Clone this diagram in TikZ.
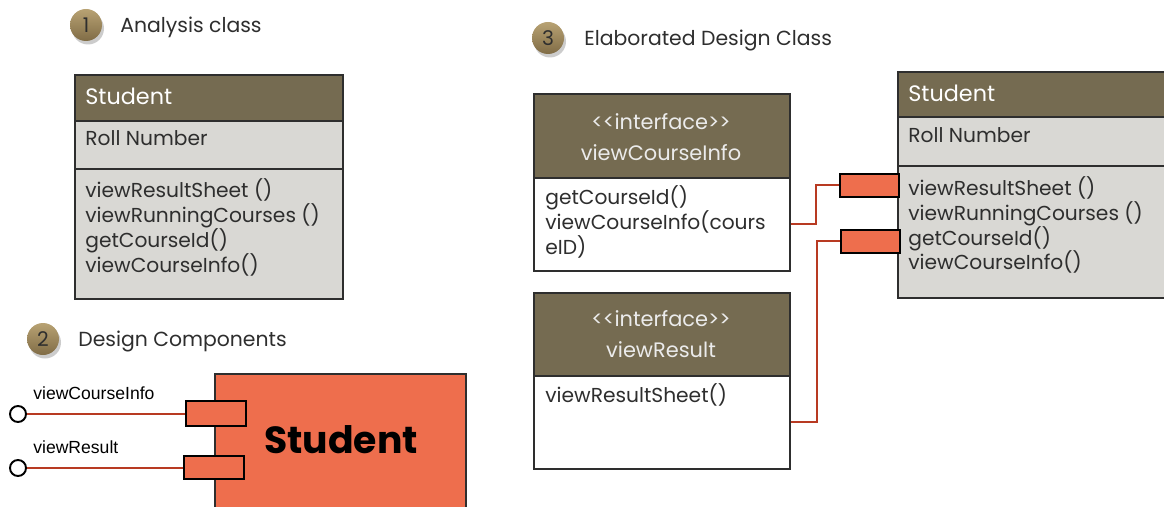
\documentclass[tikz,border=0pt]{standalone}
\usepackage{fontspec}
\setmainfont{Poppins}
\newfontfamily\arialfont{Liberation Sans}
\usetikzlibrary{shadows}
\definecolor{headc}{HTML}{756B51}
\definecolor{greyc}{HTML}{D9D8D4}
\definecolor{compc}{HTML}{EE6E4D}
\definecolor{wirec}{HTML}{B83A22}
\definecolor{inkc}{HTML}{2E2E2E}
\definecolor{badgetop}{HTML}{B8A273}
\definecolor{badgebot}{HTML}{806C46}
\begin{document}
\begin{tikzpicture}[
  x=0.2mm, y=-0.2mm,
  font=\fontsize{11.5}{14.2}\selectfont,
  sect/.style={draw=inkc, line width=.9pt, anchor=north west, inner sep=0pt},
  head/.style={sect, fill=headc},
  attr/.style={sect, fill=greyc},
  body/.style={sect, fill=white},
  txt/.style={anchor=west, inner sep=0pt, text=inkc, align=left,
              font=\fontsize{11.5}{14.2}\selectfont},
  headtxt/.style={anchor=west, inner sep=0pt, text=white, font=\fontsize{12.7}{15}\selectfont},
  ifctxt/.style={inner sep=0pt, text=white!92!black, align=center,
                 font=\fontsize{11.9}{14}\selectfont},
  port/.style={draw=black, line width=.9pt, fill=compc, anchor=north west, inner sep=0pt},
  wire/.style={draw=wirec, line width=1.1pt},
  lolli/.style={circle, draw=black, line width=1.1pt, fill=white, minimum size=3.2mm, inner sep=0pt},
  badge/.style={circle, top color=badgetop, bottom color=badgebot, minimum size=6.4mm,
                inner sep=0pt, drop shadow={shadow xshift=.4mm, shadow yshift=-.7mm, opacity=.4},
                font=\fontsize{11.5}{13}\selectfont, text=inkc},
  title/.style={anchor=west, inner sep=0pt, text=inkc, font=\fontsize{11.6}{13}\selectfont}
]
  \clip (0,0) rectangle (1164,506);

  % 1 analysis class
  \node[badge] (b1) at (86,25) {1};
  \node[title] (t1) at (120,27) {Analysis class};
  \node[head, minimum width=53.6mm, minimum height=9.2mm] (s1head) at (74,74) {};
  \node[attr, minimum width=53.6mm, minimum height=9.6mm] (s1attr) at (74,120) {};
  \node[attr, minimum width=53.6mm, minimum height=26mm] (s1ops) at (74,168) {};
  \node[headtxt] (s1name) at (85,96) {Student};
  \node[txt] (s1roll) at (85,138) {Roll Number};
  \node[txt] (s1list) at (85,227.5) {viewResultSheet ()\\viewRunningCourses ()\\getCourseId()\\viewCourseInfo()};

  % 2 design components
  \node[badge] (b2) at (43,339) {2};
  \node[title] (t2) at (78,341) {Design Components};
  \node[sect, fill=compc, minimum width=50.2mm, minimum height=27mm] (comp) at (214,373) {};
  \node[font=\fontsize{21.5}{25}\selectfont\bfseries, inner sep=0pt] (compname) at (341,440) {Student};
  \node[port, minimum width=12mm, minimum height=5mm] (c1) at (185,400) {};
  \node[port, minimum width=12mm, minimum height=4.6mm] (c2) at (183,455) {};
  \node[lolli] (l1) at (18,414) {};
  \node[lolli] (l2) at (18,468) {};
  \draw[wire] (l1.east) -- (l1.east -| c1.west);
  \draw[wire] (l2.east) -- (l2.east -| c2.west);
  \node[anchor=west, inner sep=0pt, font=\arialfont\fontsize{10}{12}\selectfont] (n1) at (33,393) {viewCourseInfo};
  \node[anchor=west, inner sep=0pt, font=\arialfont\fontsize{10}{12}\selectfont] (n2) at (33,447) {viewResult};

  % 3 elaborated design class
  \node[badge] (b3) at (548,38) {3};
  \node[title] (t3) at (584,40) {Elaborated Design Class};
  \node[head, minimum width=51.2mm, minimum height=16.8mm] (i1head) at (533,93) {};
  \node[body, minimum width=51.2mm, minimum height=18.6mm] (i1body) at (533,177) {};
  \node[ifctxt] (i1name) at (661,137) {{<}{<}interface{>}{>}\\[1.4mm]viewCourseInfo};
  \node[txt] (i1list) at (545,222) {getCourseId()\\viewCourseInfo(cours\\eID)};
  \node[head, minimum width=51.2mm, minimum height=16.6mm] (i2head) at (533,292) {};
  \node[body, minimum width=51.2mm, minimum height=18.6mm] (i2body) at (533,375) {};
  \node[ifctxt] (i2name) at (661,334) {{<}{<}interface{>}{>}\\[1.4mm]viewResult};
  \node[txt] (i2list) at (545,395) {viewResultSheet()};

  \node[head, minimum width=56mm, minimum height=9mm] (s3head) at (897,71) {};
  \node[attr, minimum width=56mm, minimum height=9.8mm] (s3attr) at (897,116) {};
  \node[attr, minimum width=56mm, minimum height=26.4mm] (s3ops) at (897,165) {};
  \node[headtxt] (s3name) at (908,93) {Student};
  \node[txt] (s3roll) at (908,135) {Roll Number};
  \node[txt] (s3list) at (908,225) {viewResultSheet ()\\viewRunningCourses ()\\getCourseId()\\viewCourseInfo()};
  \node[port, minimum width=11.8mm, minimum height=4.6mm] (p1) at (839,173) {};
  \node[port, minimum width=11.8mm, minimum height=4.6mm] (p2) at (840,229) {};
  \draw[wire] (i1body.east) -- ++(25,0) |- (p1.west);
  \draw[wire] (i2body.east) -- ++(26,0) |- (p2.west);
\end{tikzpicture}
\end{document}
